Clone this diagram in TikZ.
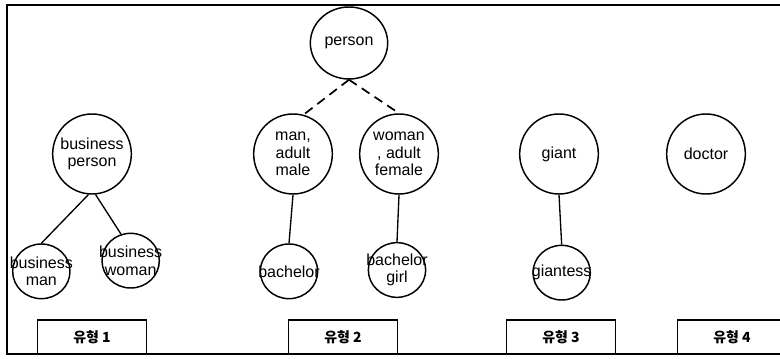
\documentclass[tikz,border=0pt]{standalone}
\usepackage{fontspec}
\setmainfont{Liberation Sans}
\newfontfamily\krfont{Noto Sans CJK KR}
\usetikzlibrary{positioning}
\usetikzlibrary{shapes.geometric}

\begin{document}
\begin{tikzpicture}[
      x=0.75pt, y=-0.75pt,
      concept/.style={ellipse, draw, line width=1.1pt, minimum width=59pt, minimum height=60pt, inner sep=0pt},
      leaf/.style={ellipse, draw, line width=1.1pt, minimum width=43pt, minimum height=41pt, inner sep=0pt},
      word/.style={align=center, inner sep=0pt, font=\fontsize{12}{13}\selectfont},
      typebox/.style={rectangle, draw, line width=1.1pt, minimum width=81.75pt, minimum height=25.5pt, font=\krfont\bfseries\fontsize{10.5}{12}\selectfont},
      link/.style={line width=1pt},
      isa/.style={line width=1.3pt, dash pattern=on 7pt off 4.5pt}
      ]
      \useasboundingbox (0,0) rectangle (780,359);

      % Frame
      \draw[line width=1.3pt] (780,5) -- (7,5) -- (7,354) -- (780,354);

      % Nodes
      \node[concept, minimum width=58pt, minimum height=54pt, label={[word]center:person}] (person) at (349,43) {};

      \node[concept, label={[word]center:{business\\person}}] (bp) at (92,154) {};
      \node[concept, label={[word]center:{man,\\adult\\male}}] (man) at (293,154) {};
      \node[concept, label={[word]center:{woman\\, adult\\female}}] (woman) at (399,154) {};
      \node[concept, label={[word]center:giant}] (giant) at (559,154) {};
      \node[concept, label={[word]center:doctor}] (doctor) at (706,154) {};

      \node[leaf, on grid, below left=88pt and 38pt of bp, label={[word]center:{business\\man}}] (bm) {};
      \node[leaf, on grid, below right=80pt and 29pt of bp, label={[word]center:{business\\woman}}] (bw) {};
      \node[leaf, on grid, below left=88pt and 3pt of man, label={[word]center:bachelor}] (bachelor) {};
      \node[leaf, on grid, below left=87pt and 1.5pt of woman, label={[word]center:{bachelor\\girl}}] (bgirl) {};
      \node[leaf, on grid, below right=89pt and 2pt of giant, label={[word]center:giantess}] (giantess) {};

      \node[typebox] (t1) at (92,337) {유형 1};
      \node[typebox] (t2) at (343,337) {유형 2};
      \node[typebox] (t3) at (561,337) {유형 3};
      \node[typebox] (t4) at (732,337) {유형 4};

      % Links
      \draw[isa] (person.south) -- (man.75);
      \draw[isa] (person.south) -- (woman.north);
      \draw[link] (bp.265) -- (bm.north);
      \draw[link] (bp.275) -- (bw.110);
      \draw[link] (man.south) -- (bachelor.north);
      \draw[link] (woman.south) -- (bgirl.north);
      \draw[link] (giant.south) -- (giantess.north);

    \end{tikzpicture}
\end{document}
